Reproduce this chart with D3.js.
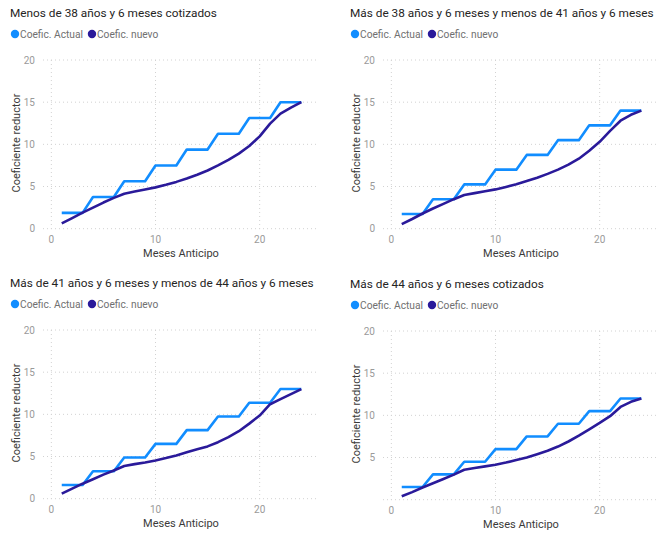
<!DOCTYPE html>
<html>
<head>
<meta charset="utf-8">
<script src="https://cdn.jsdelivr.net/npm/d3@7"></script>
<style>
  body { margin: 0; background: #fff; }
  text { font-family: Roboto, "Open Sans", sans-serif; }
</style>
</head>
<body>
<svg id="chart" width="669" height="543"></svg>
<script>
// months of anticipation (x categories)
var meses = [1,2,3,4,5,6,7,8,9,10,11,12,13,14,15,16,17,18,19,20,21,22,23,24];

var titulos = [
  'Menos de 38 años y 6 meses cotizados',
  'Más de 38 años y 6 meses y menos de 41 años y 6 meses',
  'Más de 41 años y 6 meses y menos de 44 años y 6 meses',
  'Más de 44 años y 6 meses cotizados'
];

var actual1 = [1.88,1.88,1.88,3.75,3.75,3.75,5.63,5.63,5.63,7.5,7.5,7.5,9.38,9.38,9.38,11.25,11.25,11.25,13.13,13.13,13.13,15,15,15];
var actual2 = [1.75,1.75,1.75,3.5,3.5,3.5,5.25,5.25,5.25,7,7,7,8.75,8.75,8.75,10.5,10.5,10.5,12.25,12.25,12.25,14,14,14];
var actual3 = [1.63,1.63,1.63,3.25,3.25,3.25,4.88,4.88,4.88,6.5,6.5,6.5,8.13,8.13,8.13,9.75,9.75,9.75,11.38,11.38,11.38,13,13,13];
var actual4 = [1.5,1.5,1.5,3,3,3,4.5,4.5,4.5,6,6,6,7.5,7.5,7.5,9,9,9,10.5,10.5,10.5,12,12,12];

var nuevo1 = [0.63,1.25,1.9,2.5,3.1,3.65,4.15,4.4,4.65,4.9,5.2,5.55,5.95,6.4,6.9,7.5,8.15,8.9,9.8,10.95,12.45,13.65,14.35,15];
var nuevo2 = [0.55,1.15,1.8,2.4,2.95,3.5,4.0,4.22,4.44,4.66,4.95,5.26,5.65,6.05,6.5,7.0,7.6,8.3,9.25,10.3,11.6,12.8,13.5,14];
var nuevo3 = [0.6,1.2,1.78,2.3,2.85,3.35,3.87,4.1,4.3,4.54,4.82,5.13,5.5,5.85,6.2,6.7,7.3,8.0,8.9,9.86,11.2,11.8,12.4,13];
var nuevo4 = [0.4,0.9,1.45,1.95,2.45,2.97,3.55,3.75,3.95,4.14,4.4,4.7,5.0,5.4,5.8,6.3,6.9,7.6,8.35,9.1,9.9,11.0,11.6,12];

var xTicks = [0, 10, 20];
var yTicksFull = [0, 5, 10, 15, 20];
var yTicksNoZero = [5, 10, 15, 20];

var serieNombres = ['Coefic. Actual', 'Coefic. nuevo'];
var colores = ['#118DFF', '#2A1A9A'];

var paneles = [
  {title: titulos[0], actual: actual1, nuevo: nuevo1, ox: 0,   oy: 0,   yTicks: yTicksFull},
  {title: titulos[1], actual: actual2, nuevo: nuevo2, ox: 340, oy: 0,   yTicks: yTicksFull},
  {title: titulos[2], actual: actual3, nuevo: nuevo3, ox: 0,   oy: 270, yTicks: yTicksFull},
  {title: titulos[3], actual: actual4, nuevo: nuevo4, ox: 340, oy: 271, yTicks: yTicksNoZero}
];

var svg = d3.select('#chart');

// plot area inside each panel
var plot = {left: 43, right: 318, top: 60, bottom: 228.7};

var x = d3.scaleLinear().domain([-0.8, 25.6]).range([plot.left, plot.right]);
var y = d3.scaleLinear().domain([0, 20]).range([plot.bottom, plot.top]);

var line = d3.line()
    .x(function(d, i) { return x(meses[i]); })
    .y(function(d) { return y(d); });

paneles.forEach(function(p) {
  var g = svg.append('g').attr('transform', 'translate(' + p.ox + ',' + p.oy + ')');

  g.append('text')
    .attr('x', 10).attr('y', 17)
    .style('font-size', '11.8px')
    .style('fill', '#252423')
    .text(p.title);

  // legend
  var lx = 14;
  serieNombres.forEach(function(n, i) {
    g.append('circle')
      .attr('cx', lx + 1).attr('cy', 34).attr('r', 4.2)
      .style('fill', colores[i]);
    var t = g.append('text')
      .attr('x', lx + 6).attr('y', 37.5)
      .style('font-size', '10.2px')
      .style('fill', '#707070')
      .text(n);
    lx = lx + 6 + t.node().getComputedTextLength() + 8;
  });

  // gridlines
  g.selectAll('.hgrid').data(yTicksFull).enter().append('line')
    .attr('x1', plot.left).attr('x2', plot.right)
    .attr('y1', function(d) { return y(d); }).attr('y2', function(d) { return y(d); })
    .style('stroke', '#d2d2d2').style('stroke-width', 1)
    .style('stroke-dasharray', '1,3');

  g.selectAll('.vgrid').data(xTicks).enter().append('line')
    .attr('y1', plot.top).attr('y2', plot.bottom)
    .attr('x1', function(d) { return x(d); }).attr('x2', function(d) { return x(d); })
    .style('stroke', '#d2d2d2').style('stroke-width', 1)
    .style('stroke-dasharray', '1,3');

  // tick labels
  g.selectAll('.ylab').data(p.yTicks).enter().append('text')
    .attr('x', 35).attr('y', function(d) { return y(d) + 3.5; })
    .attr('text-anchor', 'end')
    .style('font-size', '10px').style('fill', '#9a9a9a')
    .text(function(d) { return d; });

  g.selectAll('.xlab').data(xTicks).enter().append('text')
    .attr('x', function(d) { return x(d); }).attr('y', 243)
    .attr('text-anchor', 'middle')
    .style('font-size', '10px').style('fill', '#9a9a9a')
    .text(function(d) { return d; });

  // axis titles
  g.append('text')
    .attr('x', 181).attr('y', 257)
    .attr('text-anchor', 'middle')
    .style('font-size', '11px').style('fill', '#3b3a39')
    .text('Meses Anticipo');

  g.append('text')
    .attr('transform', 'translate(20,143) rotate(-90)')
    .attr('text-anchor', 'middle')
    .style('font-size', '11px').style('fill', '#3b3a39')
    .text('Coeficiente reductor');

  // lines
  g.append('path').datum(p.actual)
    .attr('d', line)
    .style('fill', 'none').style('stroke', colores[0])
    .style('stroke-width', 2.6).style('stroke-linejoin', 'round');

  g.append('path').datum(p.nuevo)
    .attr('d', line)
    .style('fill', 'none').style('stroke', colores[1])
    .style('stroke-width', 2.6).style('stroke-linejoin', 'round');
});
</script>
</body>
</html>
